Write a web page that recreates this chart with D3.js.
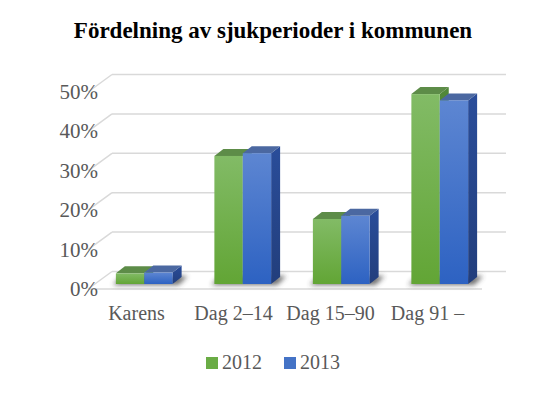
<!DOCTYPE html>
<html>
<head>
<meta charset="utf-8">
<script src="https://cdn.jsdelivr.net/npm/d3@7"></script>
<style>
  body { margin: 0; background: #fff; }
  text { font-family: "Liberation Serif", "Times New Roman", serif; }
</style>
</head>
<body>
<div id="chart"></div>
<script>
const categories = ["Karens", "Dag 2\u201314", "Dag 15\u201390", "Dag 91 \u2013"];
const seriesNames = ["2012", "2013"];
const values2012 = [0.027, 0.325, 0.165, 0.482];
const values2013 = [0.029, 0.332, 0.173, 0.466];
const yTicks = [0, 0.1, 0.2, 0.3, 0.4, 0.5];

const W = 545, H = 393;
const svg = d3.select("#chart").append("svg").attr("width", W).attr("height", H);

// 3d geometry: floor front edge and depth vector of the back wall
const floor = { x0: 88, x1: 482, y: 289 };
const depth = { dx: 24, dy: -17.5 };
const barPlane = { dx: 7, dy: -5 };   // where bars stand, inside the floor
const barDepth = { dx: 9, dy: -7 };

const y = d3.scaleLinear().domain([0, 0.5]).range([floor.y, 92]);
const x = d3.scaleBand().domain(categories)
    .range([floor.x0 + barPlane.dx, floor.x1 + barPlane.dx])
    .paddingInner(0.424).paddingOuter(0.212);
const xs = d3.scaleBand().domain(seriesNames).range([0, x.bandwidth()]);
const xLabel = d3.scaleBand().domain(categories).range([floor.x0, floor.x1 - 6]);

const colors = {
    "2012": { top: "#5d8c48", light: "#82bb66", dark: "#62a535", side: "#4a7a33", legend: "#6aac45" },
    "2013": { top: "#4b68a1", light: "#5d86d2", dark: "#2d62c2", side: "#26458a", legend: "#4473c6" }
};

const defs = svg.append("defs");
seriesNames.forEach(s => {
    const g = defs.append("linearGradient").attr("id", "grad" + s)
        .attr("x1", 0).attr("y1", 0).attr("x2", 0).attr("y2", 1);
    g.append("stop").attr("offset", "0%").attr("stop-color", colors[s].light);
    g.append("stop").attr("offset", "100%").attr("stop-color", colors[s].dark);
    const sg = defs.append("linearGradient").attr("id", "side" + s)
        .attr("x1", 0).attr("y1", 0).attr("x2", 0).attr("y2", 1);
    sg.append("stop").attr("offset", "0%").attr("stop-color", d3.color(colors[s].side).brighter(0.3));
    sg.append("stop").attr("offset", "100%").attr("stop-color", d3.color(colors[s].side).darker(0.3));
});
defs.append("filter").attr("id", "blur")
    .attr("x", "-50%").attr("y", "-100%").attr("width", "200%").attr("height", "300%")
    .append("feGaussianBlur").attr("stdDeviation", 2.5);

// title
svg.append("text")
    .attr("x", 273).attr("y", 38)
    .attr("text-anchor", "middle")
    .style("font-size", "23px").style("font-weight", "bold")
    .attr("fill", "#000")
    .text("Fördelning av sjukperioder i kommunen");

// gridlines on back wall and left wall
const grid = svg.append("g").attr("stroke", "#d9d9d9").attr("stroke-width", 1.5).attr("fill", "none");
yTicks.forEach(t => {
    const yy = y(t);
    grid.append("line")
        .attr("x1", floor.x0 + depth.dx).attr("x2", floor.x1 + depth.dx)
        .attr("y1", yy + depth.dy).attr("y2", yy + depth.dy);
    grid.append("line")
        .attr("x1", floor.x0).attr("y1", yy)
        .attr("x2", floor.x0 + depth.dx).attr("y2", yy + depth.dy);
});
grid.append("line")
    .attr("x1", floor.x0).attr("x2", floor.x1)
    .attr("y1", floor.y).attr("y2", floor.y);

// y axis labels
svg.append("g").selectAll("text").data(yTicks).join("text")
    .attr("x", 98).attr("y", d => y(d) + 7)
    .attr("text-anchor", "end")
    .attr("fill", "#595959")
    .style("font-size", "21px")
    .text(d => d3.format(".0%")(d));

const baseY = floor.y + barPlane.dy;
const rows = categories.map((c, i) => ({ cat: c, vals: [values2012[i], values2013[i]] }));

// shadows on the floor
const shadows = svg.append("g").attr("filter", "url(#blur)").attr("opacity", 0.75);
rows.forEach(r => {
    const x0 = x(r.cat) - 3;
    const x1 = x(r.cat) + x.bandwidth() + barDepth.dx + 6;
    shadows.append("polygon")
        .attr("fill", "#404040")
        .attr("points", [
            [x0, baseY + 1], [x1 - barDepth.dx, baseY + 1],
            [x1, baseY + barDepth.dy - 1], [x0 + barDepth.dx, baseY + barDepth.dy - 1]
        ].map(p => p.join(",")).join(" "));
});

// bars
const bars = svg.append("g");
rows.forEach(r => {
    seriesNames.forEach((s, j) => {
        const v = r.vals[j];
        const bx = x(r.cat) + xs(s);
        const bw = xs.bandwidth();
        const ty = y(v) + barPlane.dy;
        const g = bars.append("g");
        // side face
        g.append("polygon")
            .attr("fill", `url(#side${s})`)
            .attr("points", [
                [bx + bw, ty], [bx + bw + barDepth.dx, ty + barDepth.dy],
                [bx + bw + barDepth.dx, baseY + barDepth.dy], [bx + bw, baseY]
            ].map(p => p.join(",")).join(" "));
        // top face
        g.append("polygon")
            .attr("fill", colors[s].top)
            .attr("points", [
                [bx, ty], [bx + barDepth.dx, ty + barDepth.dy],
                [bx + bw + barDepth.dx, ty + barDepth.dy], [bx + bw, ty]
            ].map(p => p.join(",")).join(" "));
        // front face
        g.append("rect")
            .attr("x", bx).attr("y", ty)
            .attr("width", bw).attr("height", baseY - ty)
            .attr("fill", `url(#grad${s})`);
    });
});

// category labels
svg.append("g").selectAll("text").data(categories).join("text")
    .attr("x", d => xLabel(d) + xLabel.bandwidth() / 2)
    .attr("y", 320)
    .attr("text-anchor", "middle")
    .attr("fill", "#595959")
    .style("font-size", "20px")
    .text(d => d);

// legend
const legend = svg.append("g");
const legendX = [206, 284];
seriesNames.forEach((s, i) => {
    legend.append("rect")
        .attr("x", legendX[i]).attr("y", 357)
        .attr("width", 12).attr("height", 12)
        .attr("fill", colors[s].legend);
    legend.append("text")
        .attr("x", legendX[i] + 16).attr("y", 369)
        .attr("fill", "#595959")
        .style("font-size", "20px")
        .text(s);
});
</script>
</body>
</html>
